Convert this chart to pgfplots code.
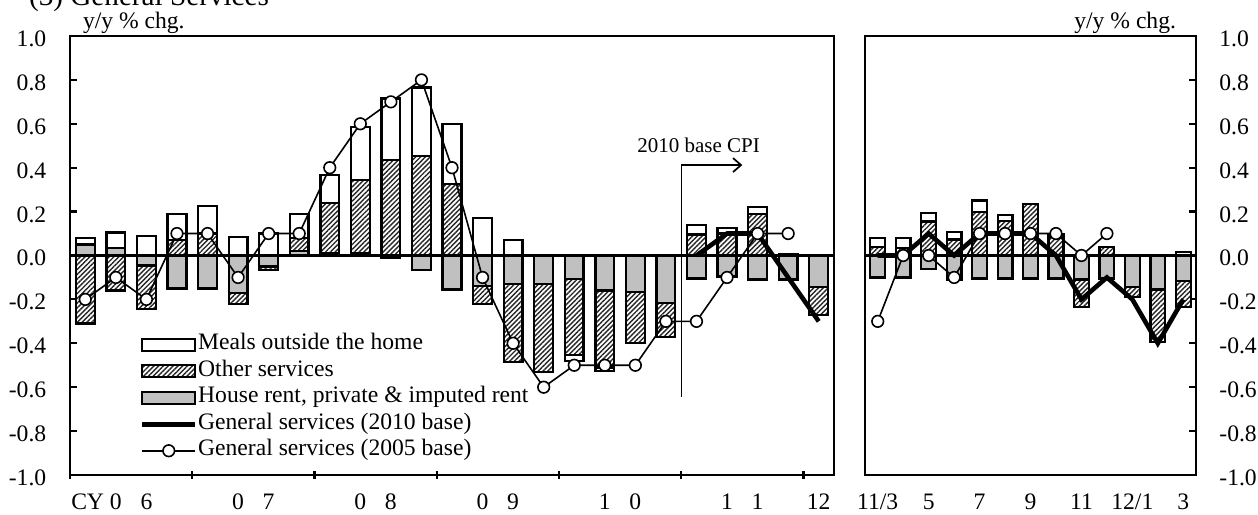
\documentclass[border=0pt]{standalone}
\usepackage{fontspec}
\setmainfont{Liberation Serif}
\usepackage{pgfplots}
\usepackage{pgfplotstable}
\pgfplotsset{compat=1.18}
\usetikzlibrary{patterns.meta,arrows.meta}
\definecolor{rentgray}{RGB}{192,192,192}

% quarterly contributions (CY2006Q1 ... 2012Q1)
\pgfplotstableread{
i rent other meals
0 0.05 -0.31 0.03
1 0.035 -0.16 0.07
2 -0.045 -0.20 0.09
3 -0.15 0.07 0.12
4 -0.15 0.10 0.125
5 -0.17 -0.05 0.085
6 -0.05 -0.015 0.10
7 0.02 0.06 0.11
8 0.01 0.23 0.127
9 0.01 0.335 0.24
10 -0.01 0.435 0.28
11 -0.065 0.453 0.313
12 -0.155 0.325 0.275
13 -0.14 -0.08 0.17
14 -0.13 -0.355 0.07
15 -0.13 -0.40 0.0
16 -0.107 -0.346 -0.027
17 -0.16 -0.35 -0.015
18 -0.165 -0.235 0.0
19 -0.215 -0.155 0.0
20 -0.105 0.095 0.045
21 -0.095 0.10 0.025
22 -0.11 0.19 0.03
23 -0.11 0.0 0.008
24 -0.145 -0.125 0.0
}\quarterly

\pgfplotstableread{
i g
0 -0.2
1 -0.1
2 -0.2
3 0.1
4 0.1
5 -0.1
6 0.1
7 0.1
8 0.4
9 0.6
10 0.7
11 0.8
12 0.4
13 -0.1
14 -0.4
15 -0.6
16 -0.5
17 -0.5
18 -0.5
19 -0.3
20 -0.3
21 -0.1
22 0.1
23 0.1
}\qold

\pgfplotstableread{
i g
20 0.0
21 0.1
22 0.1
23 -0.1
24 -0.3
}\qnew

% monthly contributions (2011/3 ... 2012/3)
\pgfplotstableread{
i rent other meals
0 -0.10 0.04 0.04
1 -0.10 0.035 0.045
2 -0.06 0.155 0.04
3 -0.11 0.073 0.033
4 -0.105 0.197 0.053
5 -0.105 0.156 0.03
6 -0.105 0.235 0.0
7 -0.105 0.085 0.013
8 -0.11 -0.125 0.0
9 -0.105 0.04 0.0
10 -0.145 -0.045 0.0
11 -0.155 -0.238 0.0
12 -0.115 -0.12 0.015
}\monthly

\pgfplotstableread{
i g
0 -0.3
1 0.0
2 0.0
3 -0.1
4 0.1
5 0.1
6 0.1
7 0.1
8 0.0
9 0.1
}\mold

\pgfplotstableread{
i g
0 0.0
1 0.0
2 0.1
3 0.0
4 0.1
5 0.1
6 0.1
7 0.0
8 -0.2
9 -0.1
10 -0.2
11 -0.4
12 -0.2
}\mnew

\tikzset{hatchfill/.style={fill=white,postaction={pattern={Lines[angle=45,distance=1.7bp,line width=0.7bp]},pattern color=black!85}}}

\pgfplotsset{
  barbase/.style={ybar, bar shift=0pt, draw=black, line width=1.15bp, forget plot},
  rentbar/.style={barbase, fill=rentgray},
  otherbar/.style={barbase, hatchfill},
  mealbar/.style={barbase, fill=white},
  newline/.style={black, line width=2.3bp, no markers, forget plot},
  oldline/.style={black, line width=0.8bp, mark=*, mark size=2.9bp, mark options={fill=white, line width=0.8bp}, forget plot},
  common/.style={
    scale only axis, height=219.5bp, ymin=-1, ymax=1,
    axis line style={line width=1.25bp},
    tick style={black, line width=1.1bp},
    tick align=inside, major tick length=3.6bp,
    ytick={-1,-0.8,-0.6,-0.4,-0.2,0,0.2,0.4,0.6,0.8,1},
    yticklabels={-1.0,-0.8,-0.6,-0.4,-0.2,0.0,0.2,0.4,0.6,0.8,1.0},
  },
}

\begin{document}
\begin{tikzpicture}[font=\fontsize{11.8bp}{13bp}\selectfont]

\node[anchor=base west, font=\fontsize{14.6bp}{16bp}\selectfont] at (11bp,254.5bp) {(3) General Services};
\node[anchor=base west] at (38bp,243bp) {y/y \% chg.};
\node[anchor=base east] at (591.5bp,243bp) {y/y \% chg.};

\begin{axis}[common,
  at={(35bp,20bp)}, anchor=south west, width=382bp,
  xmin=-0.5, xmax=24.5,
  ytick pos=left,
  yticklabel style={anchor=east, inner sep=0pt, xshift=-11.7bp, yshift=-1.4bp},
  xtick={-0.5,3.5,7.5,11.5,15.5,19.5,23.5}, xticklabels={}, xtick pos=bottom,
  xtick style={yshift=-1.8bp},
  extra x ticks={1,2,5,6,9,10,13,14,17,18,21,22,24},
  extra x tick labels={\llap{CY }0,6,0,7,0,8,0,9,1,0,1,1,12},
  extra x tick style={major tick length=0pt, xticklabel style={anchor=base, inner sep=0pt, yshift=-17.3bp}},
  legend cell align=left,
  legend style={draw=none, fill=none, inner sep=0pt, outer sep=0pt,
    at={(axis description cs:0.0916,0.3246)}, anchor=north west,
    row sep=1bp,
    nodes={inner sep=0pt, text height=8.7bp, text depth=3.55bp},
    /tikz/every odd column/.append style={column sep=0.3bp}},
]
% positive parts (overdrawn cumulative stacks)
\addplot[mealbar, bar width=9.4bp] table[x=i, y expr={max(\thisrow{rent},0)+max(\thisrow{other},0)+max(\thisrow{meals},0)}] {\quarterly};
\addplot[otherbar, bar width=9.4bp] table[x=i, y expr={max(\thisrow{rent},0)+max(\thisrow{other},0)}] {\quarterly};
\addplot[rentbar, bar width=9.4bp] table[x=i, y expr={max(\thisrow{rent},0)}] {\quarterly};
% negative parts
\addplot[mealbar, bar width=9.4bp] table[x=i, y expr={min(\thisrow{rent},0)+min(\thisrow{other},0)+min(\thisrow{meals},0)}] {\quarterly};
\addplot[otherbar, bar width=9.4bp] table[x=i, y expr={min(\thisrow{rent},0)+min(\thisrow{other},0)}] {\quarterly};
\addplot[rentbar, bar width=9.4bp] table[x=i, y expr={min(\thisrow{rent},0)}] {\quarterly};

\draw[line width=1.2bp] (axis cs:-0.5,0) -- (axis cs:24.5,0);
\draw[line width=0.65bp, -{Straight Barb[length=4bp,width=7bp,line width=0.85bp]}] (axis cs:19.5,-0.643) -- (axis cs:19.5,0.412) -- (axis cs:21.5,0.412);
\node[anchor=base, font=\fontsize{10.5bp}{12bp}\selectfont] at (axis cs:20.07,0.4715) {2010 base CPI};

\addplot[newline] table[x=i,y=g] {\qnew};
\addplot[oldline] table[x=i,y=g] {\qold};

\addlegendimage{legend image code/.code={\draw[fill=white, line width=1.15bp] (0bp,-3bp) rectangle (26.5bp,3bp);}}
\addlegendentry{Meals outside the home}
\addlegendimage{legend image code/.code={\draw[hatchfill, line width=1.15bp] (0bp,-3bp) rectangle (26.5bp,3bp);}}
\addlegendentry{Other services}
\addlegendimage{legend image code/.code={\draw[fill=rentgray, line width=1.15bp] (0bp,-3bp) rectangle (26.5bp,3bp);}}
\addlegendentry{House rent, private \& imputed rent}
\addlegendimage{legend image code/.code={\draw[black, line width=2.3bp] (0bp,0bp) -- (26.5bp,0bp);}}
\addlegendentry{General services (2010 base)}
\addlegendimage{legend image code/.code={\draw[black, line width=0.8bp] (0bp,0bp) -- (26.5bp,0bp); \draw[black, fill=white, line width=0.8bp] (13.25bp,0bp) circle (2.9bp);}}
\addlegendentry{General services (2005 base)}
\end{axis}

\begin{axis}[common,
  at={(432.5bp,20bp)}, anchor=south west, width=165.5bp,
  xmin=-0.5, xmax=12.5,
  ytick pos=right, yticklabel pos=right,
  yticklabel style={anchor=west, inner sep=0pt, xshift=11.5bp, yshift=-1.4bp},
  xtick={0,2,4,6,8,10,12}, xticklabels={11/3,5,7,9,11,12/1,3},
  xtick style={draw=none},
  xticklabel style={anchor=base, inner sep=0pt, yshift=-17.3bp},
]
\addplot[mealbar, bar width=7.4bp] table[x=i, y expr={max(\thisrow{rent},0)+max(\thisrow{other},0)+max(\thisrow{meals},0)}] {\monthly};
\addplot[otherbar, bar width=7.4bp] table[x=i, y expr={max(\thisrow{rent},0)+max(\thisrow{other},0)}] {\monthly};
\addplot[rentbar, bar width=7.4bp] table[x=i, y expr={max(\thisrow{rent},0)}] {\monthly};
\addplot[mealbar, bar width=7.4bp] table[x=i, y expr={min(\thisrow{rent},0)+min(\thisrow{other},0)+min(\thisrow{meals},0)}] {\monthly};
\addplot[otherbar, bar width=7.4bp] table[x=i, y expr={min(\thisrow{rent},0)+min(\thisrow{other},0)}] {\monthly};
\addplot[rentbar, bar width=7.4bp] table[x=i, y expr={min(\thisrow{rent},0)}] {\monthly};

\draw[line width=1.2bp] (axis cs:-0.5,0) -- (axis cs:12.5,0);

\addplot[newline] table[x=i,y=g] {\mnew};
\addplot[oldline] table[x=i,y=g] {\mold};
\end{axis}

\pgfresetboundingbox
\useasboundingbox (0bp,0bp) rectangle (629bp,257.5bp);
\end{tikzpicture}
\end{document}
